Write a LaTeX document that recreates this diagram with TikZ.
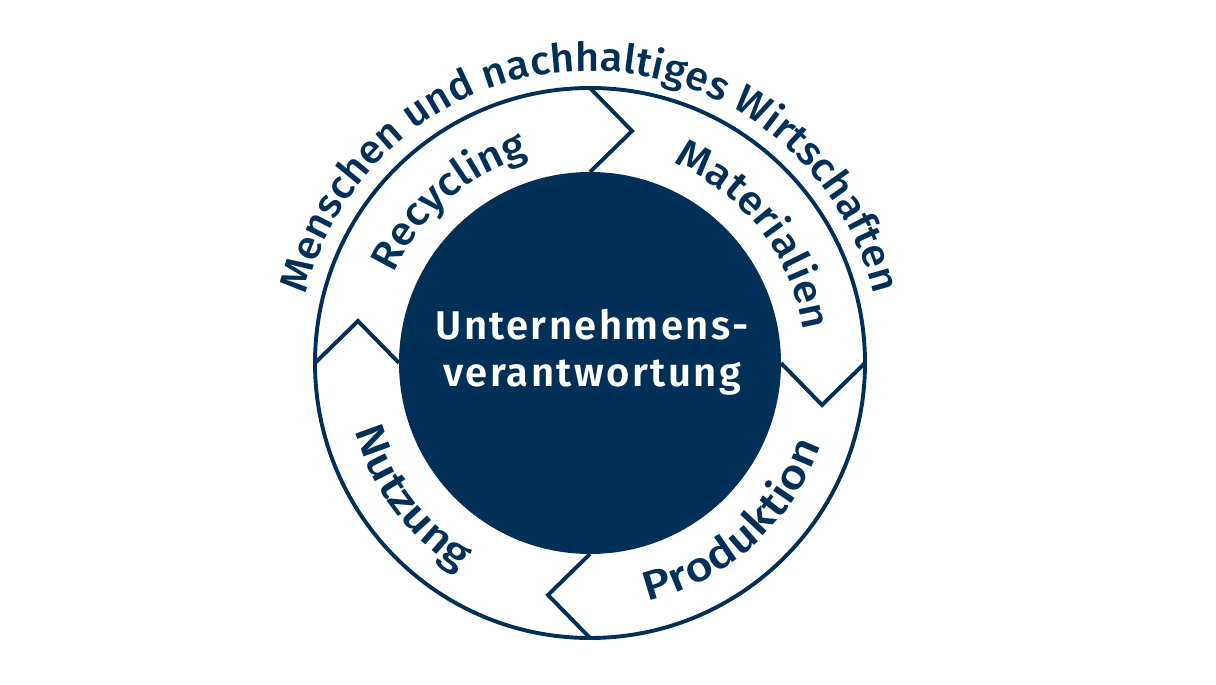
\documentclass[tikz,border=0pt]{standalone}
\usepackage{fontspec}
\setmainfont{Fira Sans}[UprightFont={* Medium}, BoldFont={* SemiBold}]
\usetikzlibrary{decorations.text,calc}
\definecolor{navy}{RGB}{0,48,87}
\tikzset{
  ringline/.style={draw=navy, line width=3.9pt, line join=miter},
  arclabel/.style={decorate, decoration={text along path, text align=center, text color=navy, text={#1}}},
}
\newcommand{\topfont}{\fontsize{40}{42}\selectfont\addfontfeatures{FakeStretch=1.07}}
\newcommand{\botfont}{\fontsize{41}{43}\selectfont\addfontfeatures{FakeStretch=1.16}}
\newcommand{\outfont}{\fontsize{40}{42}\selectfont\addfontfeatures{FakeStretch=1.04}}
\newcommand{\corefont}{\bfseries\fontsize{40}{44}\selectfont\addfontfeatures{LetterSpace=6}}
\begin{document}
\begin{tikzpicture}[x=1pt,y=1pt]
\useasboundingbox (0,0) rectangle (1216,685);
\coordinate (C) at (590,322);
% outer ring
\draw[ringline] (C) circle[radius=275];
% chevrons
\foreach \a in {0,90,180,270}{
  \coordinate (o\a) at ($(C)+(\a:275)$);
  \coordinate (t\a) at ($(C)+(\a:232)+(\a-90:42)$);
  \coordinate (i\a) at ($(C)+(\a:191)$);
  \draw[ringline] (o\a) -- (t\a) -- (i\a);
}
% core
\fill[navy] (C) circle[radius=191];
\node[anchor=base, text=white, font=\corefont, inner sep=0] (l1) at (592,345) {Unternehmens-};
\node[anchor=base, text=white, font=\corefont, inner sep=0] (l2) at (592,298) {verantwortung};
% ring labels (top: clockwise, bottom: counter-clockwise)
\path[arclabel={|\topfont|Recycling}] ($(C)+(176:216)$) arc[start angle=176, end angle=86, radius=216];
\path[arclabel={|\topfont|Materialien}] ($(C)+(83:216)$) arc[start angle=83, end angle=-7, radius=216];
\path[arclabel={|\botfont|Nutzung}] ($(C)+(172:245)$) arc[start angle=172, end angle=262, radius=245];
\path[arclabel={|\botfont|Produktion}] ($(C)+(267:245)$) arc[start angle=267, end angle=357, radius=245];
% outer title
\path[arclabel={|\outfont|Menschen und nachhaltiges Wirtschaften}] ($(C)+(178:292)$) arc[start angle=178, end angle=2, radius=292];
\end{tikzpicture}
\end{document}
